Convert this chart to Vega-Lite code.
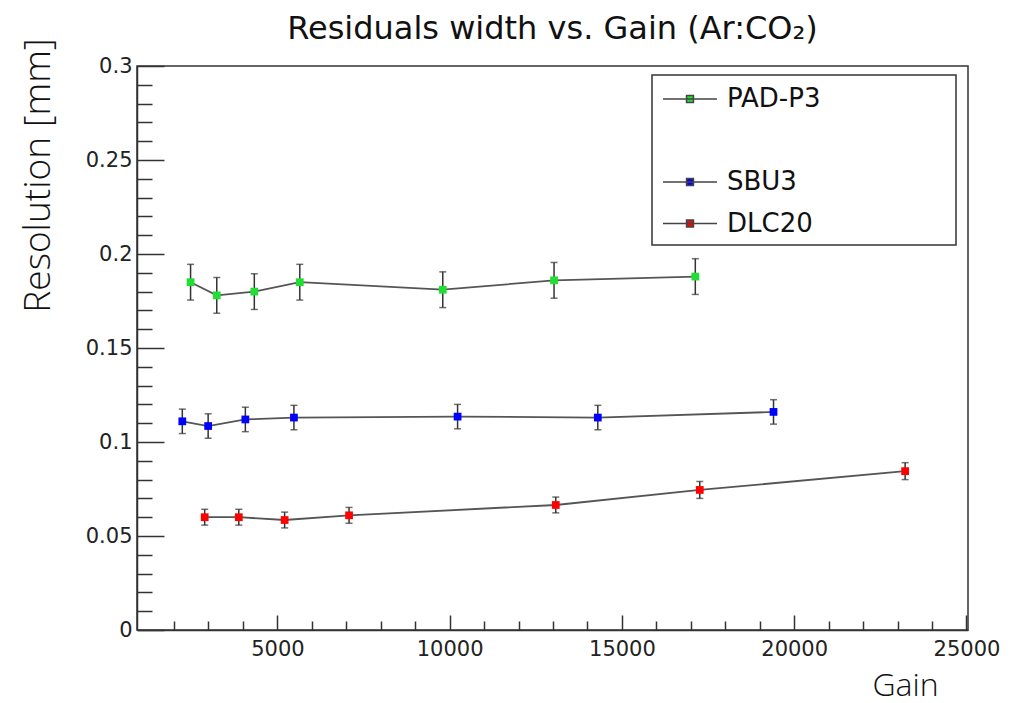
{
  "$schema": "https://vega.github.io/schema/vega-lite/v6.json",
  "width": 831,
  "height": 564,
  "autosize": "none",
  "padding": {"left": 137, "top": 66, "right": 55, "bottom": 73},
  "background": "white",
  "title": {
    "text": "Residuals width vs. Gain (Ar:CO₂)",
    "font": "DejaVu Sans",
    "fontSize": 32,
    "fontWeight": "normal",
    "color": "#111",
    "anchor": "middle",
    "baseline": "alphabetic",
    "offset": 0,
    "dy": 33
  },
  "config": {
    "view": {"stroke": "#333", "strokeWidth": 1.5},
    "axis": {
      "grid": false,
      "domainColor": "#333",
      "domainWidth": 1.5,
      "tickColor": "#333",
      "tickWidth": 1.5,
      "labelFont": "DejaVu Sans",
      "labelFontSize": 21,
      "labelColor": "#222",
      "titleColor": "#111",
      "labelOverlap": false,
      "labelFlush": false
    }
  },
  "data": {
    "values": [
      {"series": "PAD-P3", "gain": 2480, "res": 0.185, "err": 0.0095},
      {"series": "PAD-P3", "gain": 3240, "res": 0.178, "err": 0.0095},
      {"series": "PAD-P3", "gain": 4330, "res": 0.180, "err": 0.0095},
      {"series": "PAD-P3", "gain": 5650, "res": 0.185, "err": 0.0095},
      {"series": "PAD-P3", "gain": 9800, "res": 0.181, "err": 0.0095},
      {"series": "PAD-P3", "gain": 13030, "res": 0.186, "err": 0.0095},
      {"series": "PAD-P3", "gain": 17130, "res": 0.188, "err": 0.0095},
      {"series": "SBU3", "gain": 2240, "res": 0.111, "err": 0.0065},
      {"series": "SBU3", "gain": 2990, "res": 0.1085, "err": 0.0065},
      {"series": "SBU3", "gain": 4070, "res": 0.112, "err": 0.0065},
      {"series": "SBU3", "gain": 5480, "res": 0.113, "err": 0.0065},
      {"series": "SBU3", "gain": 10230, "res": 0.1135, "err": 0.0065},
      {"series": "SBU3", "gain": 14300, "res": 0.113, "err": 0.0065},
      {"series": "SBU3", "gain": 19400, "res": 0.116, "err": 0.0065},
      {"series": "DLC20", "gain": 2890, "res": 0.060, "err": 0.0042},
      {"series": "DLC20", "gain": 3880, "res": 0.060, "err": 0.0042},
      {"series": "DLC20", "gain": 5210, "res": 0.0585, "err": 0.0042},
      {"series": "DLC20", "gain": 7080, "res": 0.061, "err": 0.0042},
      {"series": "DLC20", "gain": 13080, "res": 0.0665, "err": 0.0042},
      {"series": "DLC20", "gain": 17260, "res": 0.0745, "err": 0.0045},
      {"series": "DLC20", "gain": 23220, "res": 0.0845, "err": 0.0045}
    ]
  },
  "resolve": {"axis": {"x": "independent", "y": "independent"}},
  "layer": [
    {
      "mark": {"type": "line", "color": "#555", "strokeWidth": 1.8},
      "encoding": {
        "x": {
          "field": "gain", "type": "quantitative",
          "scale": {"domain": [925, 25045], "nice": false, "zero": false},
          "axis": {
            "orient": "bottom",
            "values": [5000, 10000, 15000, 20000, 25000],
            "format": "d",
            "tickSize": -15,
            "labelPadding": 23,
            "title": "Gain",
            "titleFont": "Open Sans",
            "titleFontSize": 32,
            "titleFontWeight": 300,
            "titleX": 768,
            "titleY": 55,
            "titleAlign": "center",
            "titleBaseline": "middle"
          }
        },
        "y": {
          "field": "res", "type": "quantitative",
          "scale": {"domain": [0, 0.3], "nice": false},
          "axis": {
            "orient": "left",
            "values": [0, 0.05, 0.1, 0.15, 0.2, 0.25, 0.3],
            "format": "~g",
            "tickSize": -27,
            "labelPadding": 32,
            "title": "Resolution [mm]",
            "titleFont": "Open Sans",
            "titleFontSize": 37,
            "titleFontWeight": 300,
            "titleAngle": -90,
            "titleX": -99,
            "titleY": 109,
            "titleAlign": "center",
            "titleBaseline": "middle"
          }
        },
        "detail": {"field": "series"},
        "order": {"field": "gain"}
      }
    },
    {
      "mark": {"type": "errorbar", "color": "#333", "thickness": 1.5, "ticks": {"size": 7, "color": "#333", "thickness": 1.5}},
      "encoding": {
        "x": {
          "field": "gain", "type": "quantitative",
          "axis": {
            "orient": "bottom",
            "values": [2000, 3000, 4000, 6000, 7000, 8000, 9000, 11000, 12000, 13000, 14000, 16000, 17000, 18000, 19000, 21000, 22000, 23000, 24000],
            "tickSize": -9,
            "labels": false,
            "domain": false,
            "title": null
          }
        },
        "y": {
          "field": "res", "type": "quantitative",
          "axis": {
            "orient": "left",
            "values": [0.01, 0.02, 0.03, 0.04, 0.06, 0.07, 0.08, 0.09, 0.11, 0.12, 0.13, 0.14, 0.16, 0.17, 0.18, 0.19, 0.21, 0.22, 0.23, 0.24, 0.26, 0.27, 0.28, 0.29],
            "tickSize": -15,
            "labels": false,
            "domain": false,
            "title": null
          }
        },
        "yError": {"field": "err"}
      }
    },
    {
      "mark": {"type": "point", "shape": "square", "filled": true, "size": 60, "opacity": 1},
      "encoding": {
        "x": {"field": "gain", "type": "quantitative", "axis": null},
        "y": {"field": "res", "type": "quantitative", "axis": null},
        "color": {
          "field": "series", "type": "nominal",
          "scale": {"domain": ["PAD-P3", " ", "SBU3", "DLC20"], "range": ["#22dd33", "#ffffff", "#0000ff", "#ff0000"]},
          "legend": {
            "orient": "none",
            "legendX": 515,
            "legendY": 9,
            "title": null,
            "padding": 8,
            "strokeColor": "#333",
            "labelFont": "DejaVu Sans",
            "labelFontSize": 26,
            "labelColor": "#111",
            "labelOffset": 21,
            "symbolType": "M-1.8,0H1.8M-0.23,-0.23H0.23V0.23H-0.23ZM16.94,0",
            "symbolSize": 900,
            "symbolOffset": 14,
            "symbolStrokeColor": "#444",
            "symbolStrokeWidth": 1.5,
            "symbolOpacity": 1,
            "rowPadding": 12.5,
            "encode": {
              "symbols": {"update": {"opacity": {"signal": "datum.value === ' ' ? 0 : 1"}}},
              "legend": {"update": {"strokeWidth": {"value": 1.5}}}
            }
          }
        }
      }
    }
  ]
}
